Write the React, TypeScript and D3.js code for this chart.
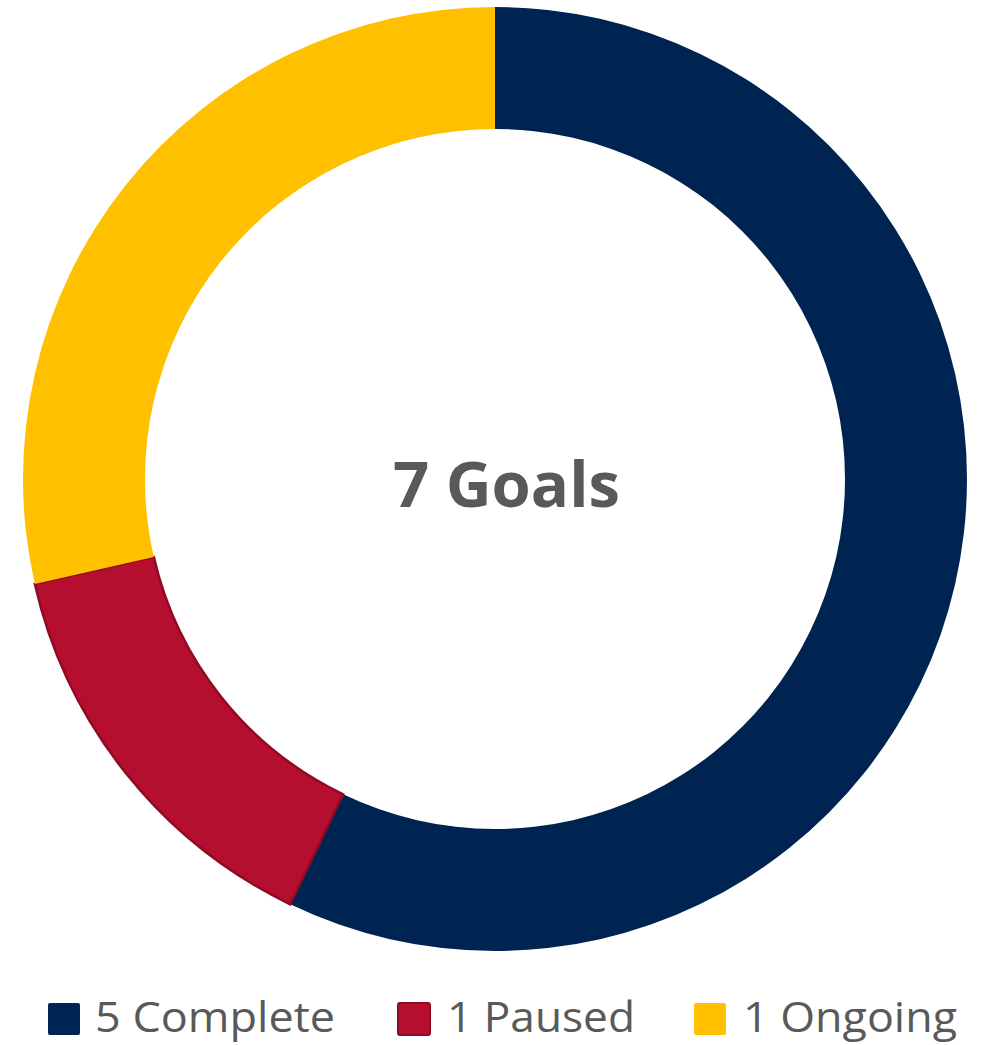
import React from "react";
import * as d3 from "d3";

const categories = ["Complete", "Paused", "Ongoing"];
const sliceValues = [4, 1, 2];
const legendLabels = ["5 Complete", "1 Paused", "1 Ongoing"];
const colors = ["#002451", "#B50E2F", "#FFC000"];
const strokes = ["none", "#8E0B25", "none"];
const centerLabel = "7 Goals";

const W = 982;
const H = 1045;
const cx = 495;
const cy = 479;
const outerR = 472;
const innerR = 350;

const legendSquares = [47, 397, 693];
const legendTextX = [95, 447, 743];
const legendTextW = [240, 188, 214];

export default function App() {
  const pie = d3.pie<number>().sort(null).value((d) => d)(sliceValues);
  const arc = d3.arc<d3.PieArcDatum<number>>().innerRadius(innerR).outerRadius(outerR);
  return (
    <svg
      width={W}
      height={H}
      style={{ position: "absolute", left: 0, top: 0, background: "#fff" }}
    >
      <g transform={`translate(${cx},${cy})`}>
        {pie.map((p, i) => (
          <path
            key={categories[i]}
            d={arc(p) || ""}
            fill={colors[i]}
            stroke={strokes[i]}
            strokeWidth={strokes[i] === "none" ? 0 : 2.5}
            strokeLinejoin="miter"
          />
        ))}
      </g>
      <text
        x={393}
        y={507}
        fontFamily="'Open Sans', sans-serif"
        fontWeight={700}
        fontSize={63}
        fill="#595959"
        textLength={227}
        lengthAdjust="spacingAndGlyphs"
      >
        {centerLabel}
      </text>
      {legendLabels.map((l, i) => (
        <g key={l}>
          <rect
            x={legendSquares[i] + 1}
            y={1003}
            width={32}
            height={32}
            rx={2}
            fill={colors[i]}
            stroke={strokes[i] === "none" ? "none" : strokes[i]}
            strokeWidth={2}
          />
          <text
            x={legendTextX[i]}
            y={1032}
            fontFamily="'Open Sans', sans-serif"
            fontSize={42}
            fill="#595959"
            textLength={legendTextW[i]}
            lengthAdjust="spacingAndGlyphs"
          >
            {l}
          </text>
        </g>
      ))}
    </svg>
  );
}
